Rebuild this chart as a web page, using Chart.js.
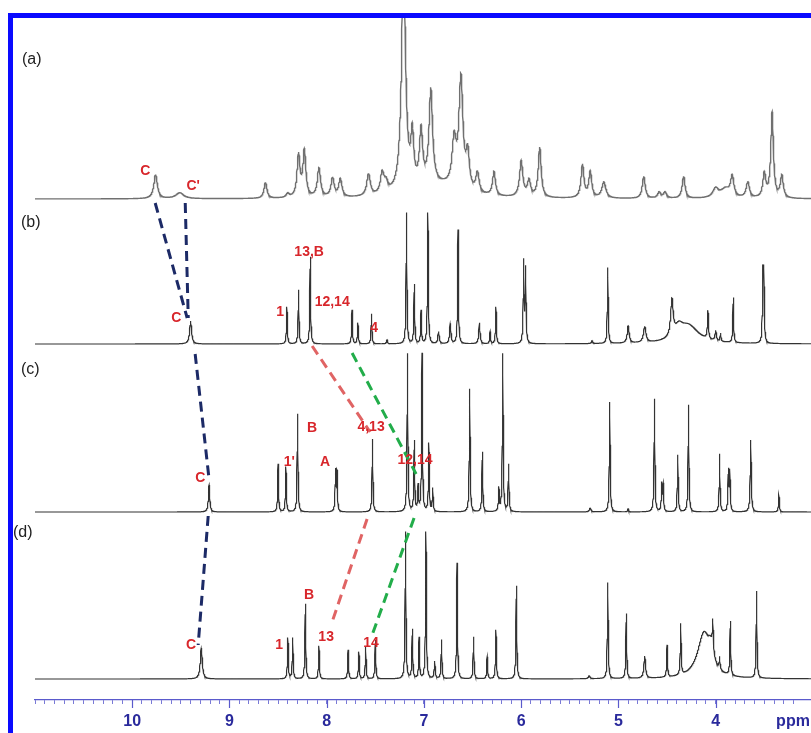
<!DOCTYPE html>
<html>
<head>
<meta charset="utf-8">
<script src="https://cdn.jsdelivr.net/npm/chart.js@4.4.1/dist/chart.umd.min.js"></script>
<style>
  html, body { margin: 0; padding: 0; background: #fff; }
  canvas { display: block; }
</style>
</head>
<body>
<canvas id="nmr" width="811" height="733"></canvas>
<script>
// peak tables: [ppm, height, half-width (ppm)]
const peaksA = [
  [9.76, 24, 0.022], [9.51, 6, 0.05], [8.63, 16, 0.018], [8.40, 4, 0.02],
  [8.29, 42, 0.018], [8.23, 46, 0.018], [8.08, 29, 0.02], [7.94, 19, 0.02],
  [7.86, 18, 0.02], [7.57, 22, 0.022], [7.43, 20, 0.022], [7.39, 10, 0.025],
  [7.21, 230, 0.025], [7.12, 50, 0.018], [7.03, 55, 0.02], [6.93, 95, 0.022],
  [6.85, 12, 0.25], [6.69, 45, 0.025], [6.62, 110, 0.025], [6.55, 35, 0.02],
  [6.45, 20, 0.02], [6.28, 24, 0.018], [6.00, 36, 0.02], [5.92, 16, 0.02],
  [5.81, 50, 0.018], [5.37, 33, 0.018], [5.29, 26, 0.018], [5.15, 16, 0.025],
  [4.74, 22, 0.018], [4.58, 6, 0.02], [4.52, 6, 0.02], [4.33, 22, 0.018],
  [4.00, 9, 0.035], [3.90, 9, 0.06], [3.83, 20, 0.02], [3.67, 16, 0.02],
  [3.50, 24, 0.018], [3.42, 85, 0.016], [3.32, 22, 0.018]
];
const peaksB = [
  [9.40, 23, 0.012], [8.41, 37, 0.005], [8.29, 54, 0.005], [8.17, 87, 0.005],
  [7.74, 34, 0.005], [7.68, 21, 0.005], [7.54, 30, 0.005], [7.38, 4, 0.006],
  [7.18, 131, 0.005], [7.10, 59, 0.005], [7.03, 33, 0.005], [6.96, 131, 0.005],
  [6.85, 12, 0.008], [6.73, 20, 0.008], [6.65, 114, 0.005], [6.43, 21, 0.008],
  [6.32, 12, 0.005], [6.26, 37, 0.005], [5.975, 84, 0.005], [5.955, 76, 0.005],
  [5.27, 3, 0.008], [5.11, 76, 0.005], [4.90, 17, 0.012], [4.73, 16, 0.015],
  [4.45, 36, 0.015], [4.38, 10, 0.05], [4.28, 18, 0.13], [4.08, 28, 0.006],
  [4.00, 10, 0.008], [3.95, 8, 0.005], [3.82, 45, 0.005],
  [3.515, 66, 0.005], [3.505, 66, 0.005]
];
const peaksC = [
  [9.21, 27, 0.008], [8.50, 48, 0.005], [8.42, 45, 0.005], [8.30, 98, 0.005],
  [7.91, 40, 0.005], [7.895, 40, 0.005], [7.53, 73, 0.005], [7.17, 158, 0.005],
  [7.10, 70, 0.005], [7.06, 25, 0.005], [7.02, 158, 0.005], [6.95, 68, 0.005],
  [6.91, 23, 0.005], [6.53, 123, 0.005], [6.40, 60, 0.005], [6.23, 23, 0.005],
  [6.19, 158, 0.005], [6.13, 47, 0.005], [5.29, 4, 0.01], [5.09, 110, 0.005],
  [4.90, 3, 0.006], [4.63, 113, 0.005], [4.555, 28, 0.005], [4.54, 26, 0.005],
  [4.39, 57, 0.005], [4.28, 107, 0.005], [3.96, 58, 0.005], [3.87, 40, 0.005],
  [3.855, 40, 0.005], [3.64, 72, 0.006], [3.35, 17, 0.005]
];
const peaksD = [
  [9.29, 31, 0.012], [8.40, 41, 0.005], [8.35, 41, 0.005], [8.22, 75, 0.005],
  [8.08, 33, 0.005], [7.78, 29, 0.005], [7.67, 27, 0.005], [7.60, 32, 0.005],
  [7.50, 39, 0.005], [7.19, 147, 0.005], [7.12, 49, 0.005], [7.05, 41, 0.005],
  [6.98, 147, 0.005], [6.89, 17, 0.006], [6.82, 39, 0.005], [6.66, 116, 0.005],
  [6.49, 42, 0.005], [6.35, 22, 0.005], [6.26, 49, 0.005], [6.05, 93, 0.005],
  [5.30, 3, 0.01], [5.11, 96, 0.005], [4.92, 65, 0.005], [4.73, 22, 0.01],
  [4.50, 32, 0.005], [4.36, 51, 0.005], [4.12, 45, 0.08], [4.05, 15, 0.03],
  [4.03, 30, 0.006], [3.96, 12, 0.005], [3.85, 54, 0.005], [3.58, 87, 0.005]
];
const spectrumNames = ['(a)', '(b)', '(c)', '(d)'];
const tickValues = [10, 9, 8, 7, 6, 5, 4];

// peak assignments: [text, ppm, level]
const labelsRed = [
  ['C', 9.866, 529], ["C'", 9.373, 514],
  ['C', 9.548, 382], ['1', 8.479, 388], ['13,B', 8.181, 448], ['12,14', 7.944, 398], ['4', 7.513, 372],
  ['C', 9.301, 222], ["1'", 8.386, 238], ['B', 8.150, 272], ['A', 8.016, 238], ['4,13', 7.544, 273], ['12,14', 7.092, 240],
  ['C', 9.394, 55], ['1', 8.489, 55], ['B', 8.181, 105], ['13', 8.006, 63], ['14', 7.544, 57]
];
// correlation lines between spectra: [colour, ppm1, level1, ppm2, level2]
const shiftLines = [
  ['#1c2a66', 9.764, 497, 9.435, 382],
  ['#1c2a66', 9.455, 497, 9.424, 382],
  ['#1c2a66', 9.353, 346, 9.209, 220],
  ['#1c2a66', 9.219, 184, 9.322, 55],
  ['#e06464', 8.150, 354, 7.554, 268],
  ['#e06464', 7.585, 181, 7.945, 78],
  ['#22ad4a', 7.739, 347, 7.081, 226],
  ['#22ad4a', 7.102, 182, 7.544, 62]
];

const PPM_LEFT = 11.0, PPM_RIGHT = 3.02, STEP = 0.002;
const baselines = [501, 356, 188, 21];

function trace(peaks, base) {
  const pts = [];
  const n = Math.round((PPM_LEFT - PPM_RIGHT) / STEP);
  for (let i = 0; i <= n; i++) {
    const x = PPM_LEFT - i * STEP;
    let v = 0;
    for (const [p, h, w] of peaks) {
      const d = (x - p) / w;
      v += h / (1 + d * d);
    }
    pts.push({x: x, y: base + v});
  }
  return pts;
}

const FONT = "'Liberation Sans', Arial, sans-serif";
const AXIS_BLUE = '#2a2a9c';

const decor = {
  id: 'decor',
  beforeDraw(chart) {
    const ctx = chart.ctx;
    ctx.save();
    ctx.fillStyle = '#fff';
    ctx.fillRect(0, 0, chart.width, chart.height);
    ctx.restore();
  },
  afterDraw(chart) {
    const {ctx, scales: {x, y}, chartArea} = chart;
    ctx.save();

    // longer major ticks
    ctx.strokeStyle = '#5a5acc';
    ctx.lineWidth = 1.2;
    tickValues.forEach(v => {
      const px = Math.round(x.getPixelForValue(v)) + 0.5;
      ctx.beginPath();
      ctx.moveTo(px, chartArea.bottom);
      ctx.lineTo(px, chartArea.bottom + 8);
      ctx.stroke();
    });

    // dashed correlation lines
    ctx.lineWidth = 3;
    ctx.setLineDash([10, 6]);
    shiftLines.forEach(([c, p1, l1, p2, l2]) => {
      ctx.strokeStyle = c;
      ctx.beginPath();
      ctx.moveTo(x.getPixelForValue(p1), y.getPixelForValue(l1));
      ctx.lineTo(x.getPixelForValue(p2), y.getPixelForValue(l2));
      ctx.stroke();
    });
    ctx.setLineDash([]);

    // red assignments
    ctx.fillStyle = '#d8262b';
    ctx.font = 'bold 14px ' + FONT;
    ctx.textAlign = 'center';
    ctx.textBaseline = 'middle';
    labelsRed.forEach(([t, p, l]) => {
      ctx.fillText(t, x.getPixelForValue(p), y.getPixelForValue(l));
    });

    // spectrum letters
    ctx.fillStyle = '#222';
    ctx.font = '16px ' + FONT;
    ctx.textAlign = 'left';
    const letterPos = [[22, 60], [21, 223], [21, 370], [13, 533]];
    spectrumNames.forEach((s, i) => ctx.fillText(s, letterPos[i][0], letterPos[i][1]));

    // unit
    ctx.fillStyle = AXIS_BLUE;
    ctx.font = 'bold 16px ' + FONT;
    ctx.textAlign = 'center';
    ctx.fillText('ppm', 793, 722);

    // blue frame
    ctx.fillStyle = '#0a0aff';
    ctx.fillRect(8, 13, chart.width - 8, 5);
    ctx.fillRect(8, 13, 5, chart.height - 13);
    ctx.restore();
  }
};

const colours = ['#707070', '#333333', '#333333', '#333333'];
const widths = [1.4, 1.2, 1.2, 1.2];

new Chart(document.getElementById('nmr'), {
  type: 'line',
  data: {
    datasets: [peaksA, peaksB, peaksC, peaksD].map((pk, i) => ({
      label: spectrumNames[i],
      data: trace(pk, baselines[i]),
      borderColor: colours[i],
      borderWidth: widths[i],
      pointRadius: 0,
      tension: 0,
      fill: false
    }))
  },
  options: {
    responsive: false,
    animation: false,
    parsing: false,
    normalized: true,
    events: [],
    layout: { padding: { left: 35, top: 18, right: 0, bottom: 0 } },
    plugins: { legend: { display: false }, tooltip: { enabled: false } },
    scales: {
      x: {
        type: 'linear',
        reverse: true,
        min: PPM_RIGHT,
        max: PPM_LEFT,
        afterFit(scale) { scale.height = 33; },
        border: { display: true, color: '#5a5acc', width: 1.2 },
        grid: { drawOnChartArea: false, drawTicks: true, tickLength: 4, color: '#7a7ad6', lineWidth: 1 },
        ticks: {
          stepSize: 0.1,
          autoSkip: false,
          maxRotation: 0,
          maxTicksLimit: 200,
          padding: 8,
          color: AXIS_BLUE,
          font: { family: FONT, size: 16, weight: 'bold' },
          callback(v) {
            if (v < 3.05) return null;
            const r = Math.round(v);
            return (Math.abs(v - r) < 1e-6 && tickValues.includes(r)) ? String(r) : '';
          }
        }
      },
      y: { display: false, min: 0, max: 682 }
    }
  },
  plugins: [decor]
});
</script>
</body>
</html>
